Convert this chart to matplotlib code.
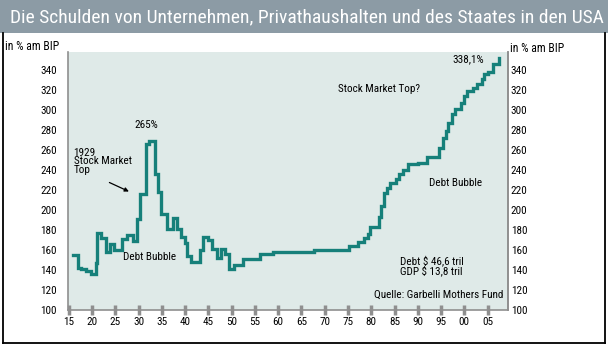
import matplotlib
matplotlib.use("Agg")
import matplotlib.pyplot as plt
import matplotlib.font_manager as fm
from matplotlib.patches import Rectangle
from matplotlib.lines import Line2D

# ---- data ----
years = [1915.9, 1916.9, 1917.7, 1918.7, 1919.7, 1920.8, 1921.1, 1921.8, 1923.0, 1923.8,
         1924.7, 1926.5, 1927.5, 1928.7, 1929.6, 1930.3, 1931.6, 1932.2, 1933.6, 1934.2,
         1934.9, 1936.0, 1937.4, 1938.3, 1939.0, 1939.9, 1940.3, 1941.2, 1943.2, 1943.8,
         1945.0, 1945.8, 1946.8, 1947.7, 1948.5, 1949.5, 1950.5, 1952.4, 1956.1, 1958.9,
         1967.7, 1975.3, 1977.1, 1978.4, 1979.2, 1979.7, 1981.7, 1982.2, 1982.8, 1983.3,
         1984.0, 1985.3, 1986.0, 1986.9, 1987.8, 1990.1, 1991.9, 1994.6, 1995.5, 1996.1,
         1996.6, 1997.3, 1998.0, 1999.2, 1999.9, 2000.5, 2001.9, 2002.7, 2003.8, 2004.3,
         2005.2, 2006.2, 2007.5]
debt_pct = [155, 142, 141, 139, 136, 147, 177, 172, 158, 166,
            160, 171, 175, 169, 191, 216, 266, 269, 236, 218,
            196, 181, 192, 181, 173, 167, 154, 148, 160, 173,
            170, 161, 152, 161, 156, 141, 145, 151, 156, 158,
            160, 164, 168, 172, 176, 183, 193, 204, 217, 222,
            227, 231, 236, 240, 246, 247, 253, 262, 272, 279,
            287, 296, 301, 307, 314, 319, 322, 326, 331, 336,
            338, 346, 352]
xtick_years = [1915, 1920, 1925, 1930, 1935, 1940, 1945, 1950, 1955, 1960,
               1965, 1970, 1975, 1980, 1985, 1990, 1995, 2000, 2005]
xtick_labels = ['15', '20', '25', '30', '35', '40', '45', '50', '55', '60',
                '65', '70', '75', '80', '85', '90', '95', '00', '05']
ytick_vals = [100, 120, 140, 160, 180, 200, 220, 240, 260, 280, 300, 320, 340]

title = "Die Schulden von Unternehmen, Privathaushalten und des Staates in den USA"

# ---- fonts ----
names = {f.name for f in fm.fontManager.ttflist}
COND = 'DejaVu Sans'
for cand in ['Liberation Sans Narrow', 'Roboto Condensed', 'Open Sans Condensed', 'Noto Sans', 'Roboto']:
    if cand in names:
        COND = cand
        break
plt.rcParams['font.family'] = [COND, 'DejaVu Sans']

W, H = 608, 348
fig = plt.figure(figsize=(W / 100, H / 100), dpi=100)
fig.patch.set_facecolor('white')

def fx(px):
    return px / W

def fy(py):
    return 1 - py / H

# title bar
fig.patches.append(Rectangle((0, fy(33)), 1, 33 / H, transform=fig.transFigure,
                             facecolor='#8c9ba5', edgecolor='none', zorder=0))
fig.text(fx(10), fy(17), title, color='white', fontsize=14, va='center', ha='left')

# outer frame
for (x0, y0, x1, y1) in [(3, 33, 3, 343), (604.5, 33, 604.5, 343), (3, 343, 604.5, 343)]:
    fig.add_artist(Line2D([fx(x0), fx(x1)], [fy(y0), fy(y1)], transform=fig.transFigure,
                          color='black', linewidth=1.3))

# axes
left, right, top, bottom = 68, 508, 52, 309.5
ax = fig.add_axes([fx(left), fy(bottom), (right - left) / W, (bottom - top) / H])
ax.set_facecolor('#dfeae8')
ax.set_xlim(1914.8, 2009.4)
ax.set_ylim(100, 100 + (bottom - top))

ax.plot(years, debt_pct, drawstyle='steps-post', color='#16807a', linewidth=2.4,
        solid_joinstyle='miter', zorder=3)

ax.spines['top'].set_visible(False)
for s in ['left', 'right', 'bottom']:
    ax.spines[s].set_color('#8f8f8f')
    ax.spines[s].set_linewidth(1.2)

tfs = 8
ax.set_xticks(xtick_years)
ax.set_xticklabels(xtick_labels)
ax.tick_params(axis='x', direction='inout', length=7, width=2.5, color='#8f8f8f',
               labelsize=tfs, pad=2)
ax.set_yticks(ytick_vals)
ax.set_yticklabels([str(v) for v in ytick_vals])
ax.tick_params(axis='y', length=0, labelsize=tfs, pad=8)
ax2 = ax.twinx()
ax2.set_ylim(ax.get_ylim())
ax2.set_yticks(ytick_vals)
ax2.set_yticklabels([str(v) for v in ytick_vals])
ax2.tick_params(axis='y', length=0, labelsize=tfs, pad=2)
for s in ['top', 'left', 'bottom']:
    ax2.spines[s].set_visible(False)
ax2.spines['right'].set_color('#8f8f8f')
ax2.spines['right'].set_linewidth(1.2)

# axis titles
fig.text(fx(5), fy(46), 'in % am BIP', fontsize=8.5, va='center', ha='left')
fig.text(fx(510), fy(48), 'in % am BIP', fontsize=8.5, va='center', ha='left')

# annotations (data coordinates)
fs = 8
ax.text(1931.6, 284, '265%', fontsize=fs, ha='center', va='center')
ax.text(1916.0, 248, '1929\nStock Market\nTop', fontsize=fs, ha='left', va='center',
        linespacing=0.85)
ax.annotate('', xy=(1927.9, 218), xytext=(1923.7, 227),
            arrowprops=dict(arrowstyle='-|>', color='black', lw=0.9,
                            mutation_scale=6, shrinkA=0, shrinkB=0))
ax.text(1926.7, 153, 'Debt Bubble', fontsize=fs, ha='left', va='center')
ax.text(1972.9, 321, 'Stock Market Top?', fontsize=fs, ha='left', va='center')
ax.text(2000.8, 350, '338,1%', fontsize=fs, ha='center', va='center')
ax.text(1992.4, 227, 'Debt Bubble', fontsize=fs, ha='left', va='center')
ax.text(1986.2, 149, 'Debt $ 46,6 tril', fontsize=fs, ha='left', va='center')
ax.text(1986.2, 139, 'GDP $ 13,8 tril', fontsize=fs, ha='left', va='center')
ax.text(2008.4, 115, 'Quelle: Garbelli Mothers Fund', fontsize=fs, ha='right', va='center')

fig.savefig('out.png', dpi=100)
